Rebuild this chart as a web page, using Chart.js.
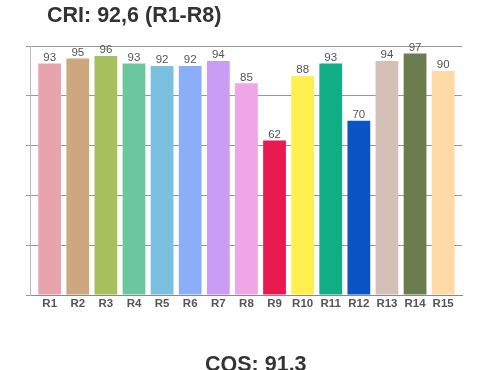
<!DOCTYPE html>
<html>
<head>
<meta charset="utf-8">
<script src="https://cdn.jsdelivr.net/npm/chart.js@4"></script>
<style>
	body { margin: 0; background: #fff; font-family: "Liberation Sans", Arial, sans-serif; }
	#wrap { position: relative; width: 500px; height: 370px; overflow: hidden; }
	.head { position: absolute; font-weight: bold; font-size: 21.5px; line-height: 21px; color: #333; white-space: nowrap; }
</style>
</head>
<body>
<div id="wrap">
	<canvas id="cri"></canvas>
	<div class="head" style="left:47px; top:5px;">CRI: 92,6 (R1-R8)</div>
	<div class="head" style="left:205px; top:354px;">CQS: 91.3</div>
</div>
<script>
labels = ['R1', 'R2', 'R3', 'R4', 'R5', 'R6', 'R7', 'R8', 'R9', 'R10', 'R11', 'R12', 'R13', 'R14', 'R15'];
values = [93, 95, 96, 93, 92, 92, 94, 85, 62, 88, 93, 70, 94, 97, 90];
colors = [
	'#e8a3ad', '#cda87e', '#a8bf5e', '#6cc6a0', '#7cc0e0',
	'#8aaef8', '#c99cf6', '#eea6e8', '#e8194f', '#fff04f',
	'#10ae85', '#0a55c6', '#d5c0b8', '#6b7c4f', '#ffd9a6'
];

// bars sit on a numeric x axis so the frame can run a bit wider than the bars
points = values.map(function(v, i) { return { x: i + 1, y: v }; });

valueLabels = {
	id: 'valueLabels',
	afterDatasetsDraw: function(chart) {
		var c = chart.ctx;
		var meta = chart.getDatasetMeta(0);
		c.save();
		c.font = '11.5px "Liberation Sans", Arial, sans-serif';
		c.fillStyle = '#555';
		c.textAlign = 'center';
		c.textBaseline = 'alphabetic';
		meta.data.forEach(function(bar, i) {
			c.fillText(values[i], bar.x, bar.y - 2.5);
		});
		c.restore();
	}
};

new Chart(document.getElementById('cri'), {
	type: 'bar',
	data: {
		datasets: [{
			data: points,
			backgroundColor: colors,
			borderWidth: 0,
			barPercentage: 0.9,
			categoryPercentage: 0.9
		}]
	},
	options: {
		responsive: true,
		maintainAspectRatio: false,
		animation: false,
		layout: { padding: { top: 46, left: 26, right: 38, bottom: 0 } },
		plugins: {
			legend: { display: false },
			tooltip: { enabled: false }
		},
		scales: {
			x: {
				type: 'linear',
				min: 0.3,
				max: 15.67,
				offset: false,
				grid: { display: false, drawTicks: false },
				border: { display: true, color: '#888', width: 1 },
				ticks: {
					autoSkip: false,
					maxRotation: 0,
					padding: 2,
					color: '#555',
					font: { family: '"Liberation Sans", Arial, sans-serif', size: 11.5, weight: 'bold' },
					callback: function(v) { return labels[v - 1]; }
				},
				afterBuildTicks: function(s) {
					s.ticks = labels.map(function(l, i) { return { value: i + 1 }; });
				},
				afterFit: function(s) { s.height = 75; }
			},
			y: {
				min: 0,
				max: 100,
				grid: { color: '#999', tickLength: 4, drawTicks: true },
				border: { display: true, color: '#bbb', width: 1 },
				ticks: { stepSize: 20, display: false },
				afterFit: function(s) { s.width = 4; }
			}
		}
	},
	plugins: [valueLabels]
});
</script>
</body>
</html>
